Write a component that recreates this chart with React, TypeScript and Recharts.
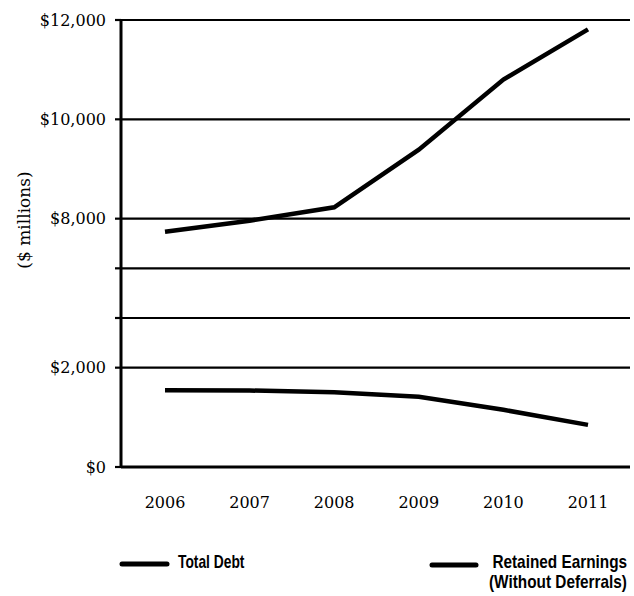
import React, { useLayoutEffect, useRef, useState } from 'react';
import { LineChart, Line, XAxis, YAxis, CartesianGrid, Legend } from 'recharts';

// ---- data ----
const YEARS = ['2006', '2007', '2008', '2009', '2010', '2011'];
const TOTAL_DEBT = [7470, 7920, 8230, 9390, 10800, 11810];
const RETAINED_EARNINGS = [1545, 1540, 1505, 1414, 1152, 848];
const SERIES_NAMES = ['Total Debt', 'Retained Earnings (Without Deferrals)'];
const Y_TICKS = [0, 2000, 4000, 6000, 8000, 10000, 12000];
const Y_TICK_LABELS = ['$0', '$2,000', '', '', '$8,000', '$10,000', '$12,000'];
const Y_AXIS_TITLE = '($ millions)';

// The reference axis is unevenly spaced: relative height of each tick interval
const Y_INTERVAL_WEIGHTS = [2, 1, 1, 1, 2, 2];

const chartData = YEARS.map((year, i) => ({
  year,
  debt: TOTAL_DEBT[i],
  earnings: RETAINED_EARNINGS[i],
}));

// piecewise-linear scale following the tick breakpoints and weights
function makeBrokenScale(): any {
  let dom: number[] = [Y_TICKS[0], Y_TICKS[Y_TICKS.length - 1]];
  let rng: number[] = [0, 1];
  const stops: number[] = [0];
  Y_INTERVAL_WEIGHTS.forEach((w, i) => stops.push(stops[i] + w));
  const total = stops[stops.length - 1];
  const toUnit = (v: number) => {
    const n = Y_TICKS.length;
    let i = 1;
    while (i < n - 1 && v > Y_TICKS[i]) i++;
    const a = Y_TICKS[i - 1];
    const b = Y_TICKS[i];
    const t = (v - a) / (b - a);
    return (stops[i - 1] + t * (stops[i] - stops[i - 1])) / total;
  };
  const fromUnit = (u: number) => {
    const s = u * total;
    let i = 1;
    while (i < stops.length - 1 && s > stops[i]) i++;
    const t = (s - stops[i - 1]) / (stops[i] - stops[i - 1]);
    return Y_TICKS[i - 1] + t * (Y_TICKS[i] - Y_TICKS[i - 1]);
  };
  const scale: any = (v: number) => rng[0] + toUnit(Number(v)) * (rng[1] - rng[0]);
  scale.domain = function (d?: number[]) {
    if (d === undefined) return dom.slice();
    dom = d.slice();
    return scale;
  };
  scale.range = function (r?: number[]) {
    if (r === undefined) return rng.slice();
    rng = r.slice();
    return scale;
  };
  scale.invert = (px: number) => fromUnit((px - rng[0]) / (rng[1] - rng[0]));
  scale.ticks = () => Y_TICKS.slice();
  scale.tickFormat = () => (v: number) => String(v);
  scale.copy = () => makeBrokenScale().domain(dom).range(rng);
  return scale;
}
const Y_SCALE = makeBrokenScale();

const SERIF = "'DejaVu Serif', 'Liberation Serif', serif";
const CONDENSED = "'Liberation Sans', 'Liberation Sans Narrow', 'DejaVu Sans Condensed', sans-serif";

// legend layout (positions within the legend box), in series order
const LEGEND_ITEMS_LAYOUT = [
  { x1: 122, x2: 167, y: 24, textX: 178, textY: 28, width: 67 },
  { x1: 432, x2: 476, y: 25, textX: 489, textY: 28, width: 138 },
];

// text drawn condensed horizontally to a target width (like the reference's condensed face)
function CondensedText({ x, y, lines, width, lineHeight }: any) {
  const ref = useRef<SVGTextElement>(null);
  const [sx, setSx] = useState(0.7);
  useLayoutEffect(() => {
    if (ref.current) {
      const w = ref.current.getBBox().width;
      if (w > 0) {
        const s = width / w;
        if (Math.abs(s - sx) > 0.002) setSx(s);
      }
    }
  });
  return (
    <g transform={`translate(${x}, ${y}) scale(${sx}, 1)`}>
      <text ref={ref} x={0} y={0} fontFamily={CONDENSED} fontWeight={700} fontSize={18} fill="#000">
        {lines.map((l: string, j: number) => (
          <tspan key={j} x={j === 0 && lines.length > 1 ? 4 : 0} dy={j === 0 ? 0 : lineHeight}>
            {l}
          </tspan>
        ))}
      </text>
    </g>
  );
}

function LegendContent(props: any) {
  const payload = props.payload || [];
  return (
    <svg width={634} height={56} style={{ display: 'block' }}>
      {payload.map((item: any, k: number) => {
        const name: string = String(item.value);
        const idx = SERIES_NAMES.indexOf(name);
        const lay = LEGEND_ITEMS_LAYOUT[idx >= 0 ? idx : k];
        if (!lay) return null;
        const parts = name.split(/\s(?=\()/);
        return (
          <g key={name}>
            <line x1={lay.x1} x2={lay.x2} y1={lay.y} y2={lay.y} stroke="#000" strokeWidth={5} strokeLinecap="round" />
            <CondensedText x={lay.textX} y={lay.textY} lines={parts} width={lay.width} lineHeight={20} />
          </g>
        );
      })}
    </svg>
  );
}

function YTitle(props: any) {
  const vb = props.viewBox || { x: 0, y: 20 };
  const cx = vb.x + 30;
  const cy = vb.y + 200;
  return (
    <text
      x={cx}
      y={cy}
      transform={`rotate(-90, ${cx}, ${cy})`}
      textAnchor="middle"
      fontFamily={SERIF}
      fontSize={17}
      fill="#000"
    >
      {Y_AXIS_TITLE}
    </text>
  );
}

export default function App() {
  return (
    <div style={{ position: 'absolute', left: 0, top: 0, width: 634, height: 596, background: '#fff' }}>
      <LineChart
        width={634}
        height={596}
        data={chartData}
        margin={{ top: 20, right: 4, bottom: 99, left: 0 }}
      >
        <CartesianGrid vertical={false} stroke="#000" strokeWidth={2.2} strokeOpacity={1} />
        <XAxis
          dataKey="year"
          padding={{ left: 44, right: 42 }}
          tickLine={false}
          tickSize={0}
          tickMargin={30}
          height={30}
          axisLine={{ stroke: '#000', strokeWidth: 3 }}
          tick={{ fontFamily: SERIF, fontSize: 16, fill: '#000' }}
        />
        <YAxis
          type="number"
          domain={[0, 12000]}
          ticks={Y_TICKS}
          scale={Y_SCALE}
          width={121}
          tickSize={6}
          tickMargin={9}
          interval={0}
          tickFormatter={(v: number) => Y_TICK_LABELS[Y_TICKS.indexOf(v)] ?? ''}
          tickLine={{ stroke: '#000', strokeWidth: 2.2 }}
          axisLine={{ stroke: '#000', strokeWidth: 3 }}
          tick={{ fontFamily: SERIF, fontSize: 16, fill: '#000' }}
          label={YTitle}
        />
        <Legend
          layout="horizontal"
          verticalAlign="middle"
          align="center"
          content={LegendContent}
          wrapperStyle={{ top: 540, left: 0, width: 634, height: 56 }}
        />
        <Line
          type="linear"
          dataKey="debt"
          name={SERIES_NAMES[0]}
          stroke="#000"
          strokeWidth={4.5}
          dot={false}
          activeDot={false}
          isAnimationActive={false}
        />
        <Line
          type="linear"
          dataKey="earnings"
          name={SERIES_NAMES[1]}
          stroke="#000"
          strokeWidth={4.5}
          dot={false}
          activeDot={false}
          isAnimationActive={false}
        />
      </LineChart>
    </div>
  );
}
